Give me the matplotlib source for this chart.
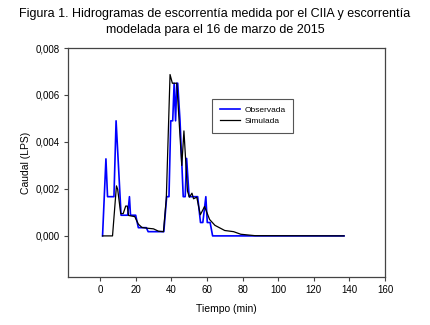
"""
Hidrogramas observado vs simulado
"""

import matplotlib
matplotlib.use('Agg')
import matplotlib.pyplot as plt
from matplotlib.ticker import FuncFormatter

# observed runoff (blue)
t_obs = [1.4, 3.3, 4.2, 7.8, 9.0, 11.8, 15.5, 16.5, 17.1, 20.0, 21.5, 26.0, 27.0,
         35.8, 37.4, 38.7, 39.7, 40.8, 41.6, 42.4, 43.1, 43.6, 44.9, 46.7, 47.8,
         48.6, 50.0, 54.8, 56.4, 57.7, 59.4, 60.2, 61.8, 63.2, 137.0]
q_obs = [0.0, 0.00328, 0.00167, 0.00167, 0.0049, 0.00088, 0.00088, 0.00167, 0.00088,
         0.00088, 0.00035, 0.00035, 0.00018, 0.00018, 0.00167, 0.00167, 0.0049,
         0.0049, 0.0065, 0.0049, 0.0065, 0.0065, 0.0049, 0.00167, 0.00167, 0.0033,
         0.00167, 0.00167, 0.00057, 0.00057, 0.00167, 0.00057, 0.00057, 0.0, 0.0]

# simulated runoff (black)
t_sim = [1.4, 7.0, 9.2, 9.9, 11.6, 13.0, 14.4, 15.3, 16.0, 19.5, 21.5, 23.5, 26.2,
         30.0, 32.8, 35.6, 37.2, 39.3, 40.6, 43.1, 45.9, 47.1, 49.1, 50.2, 51.6,
         52.5, 54.3, 56.3, 58.7, 61.5, 64.5, 70.0, 75.0, 79.0, 87.0, 137.0]
q_sim = [0.0, 0.0, 0.00213, 0.00198, 0.00095, 0.00095, 0.00127, 0.00127, 0.00087,
         0.00082, 0.0005, 0.00036, 0.00033, 0.0003, 0.0002, 0.00018, 0.0016,
         0.00687, 0.0065, 0.0065, 0.003, 0.00447, 0.0019, 0.00165, 0.00182,
         0.00158, 0.00165, 0.0009, 0.00125, 0.0007, 0.00045, 0.00023, 0.00018,
         0.00007, 0.00001, 0.0]

x_ticks = [0, 20, 40, 60, 80, 100, 120, 140, 160]
y_ticks = [0.0, 0.002, 0.004, 0.006, 0.008]

plt.rcParams['font.family'] = ['Liberation Sans', 'DejaVu Sans']

fig = plt.figure(figsize=(4.3, 3.25), dpi=100)
ax = fig.add_axes([68 / 430, 1 - 277 / 325, 317 / 430, 229 / 325])

ax.plot(t_obs, q_obs, color='#0000ff', lw=1.2, label='Observada')
ax.plot(t_sim, q_sim, color='black', lw=0.9, label='Simulada')

ax.set_xlim(-18, 160)
ax.set_ylim(-0.00175, 0.008)
ax.set_xticks(x_ticks)
ax.set_yticks(y_ticks)
ax.yaxis.set_major_formatter(FuncFormatter(lambda v, p: '{:.3f}'.format(v).replace('.', ',')))
ax.tick_params(direction='out', length=3, width=0.8, labelsize=7, color='#444444', pad=3)

for s in ax.spines.values():
    s.set_color('#444444')
    s.set_linewidth(0.9)

ax.set_xlabel('Tiempo (min)', fontsize=7.5, labelpad=6)
ax.set_ylabel('Caudal (LPS)', fontsize=7.5, labelpad=3)

fig.suptitle('Figura 1. Hidrogramas de escorrentía medida por el CIIA y escorrentía\n'
             'modelada para el 16 de marzo de 2015', fontsize=9, y=0.975, linespacing=1.45)

leg = ax.legend(loc='upper left', bbox_to_anchor=(212 / 430, 1 - 99 / 325),
                bbox_transform=fig.transFigure, fontsize=6, fancybox=False,
                framealpha=1, edgecolor='#555555', handlelength=2.5,
                borderpad=0.9, labelspacing=0.35, handletextpad=0.5, borderaxespad=0)
leg.get_frame().set_linewidth(0.8)

plt.savefig('out.png', dpi=100)
